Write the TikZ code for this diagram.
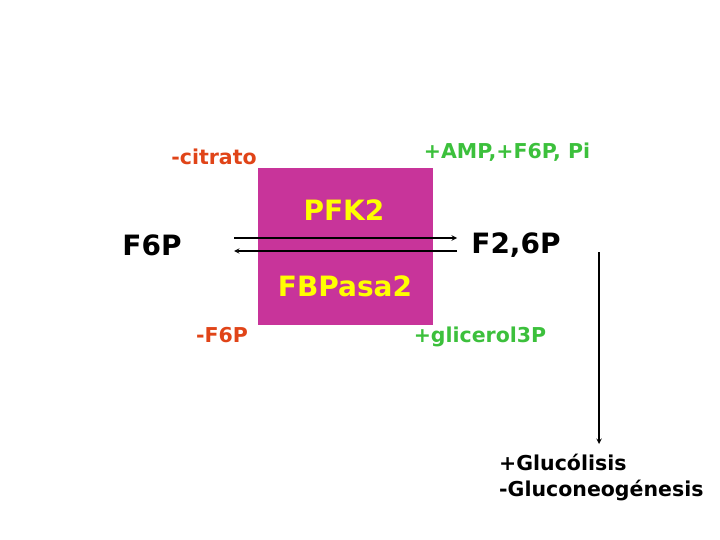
\documentclass[tikz,border=0pt]{standalone}
\usepackage{fontspec}
\setmainfont{DejaVu Sans}
\definecolor{redo}{HTML}{E04418}
\definecolor{grn}{HTML}{3CC03C}
\definecolor{mag}{HTML}{C8349A}
\definecolor{yel}{HTML}{FFFF00}
\begin{document}
\begin{tikzpicture}[x=1pt,y=-1pt,
  lab/.style={font=\bfseries\fontsize{20.5}{26}\selectfont,inner sep=0pt},
  big/.style={font=\bfseries\fontsize{28}{32}\selectfont,inner sep=0pt},
  arr/.style={-stealth,line width=1.4pt}]
\useasboundingbox (0,0) rectangle (720,540);
\node[fill=mag,minimum width=175pt,minimum height=157pt,inner sep=0pt] (box) at (345.5,246.5) {};
\node[big,text=yel] (pfk) at (344,210) {PFK2};
\node[big,text=yel] (fbp) at (345,286) {FBPasa2};
\node[big] (f6p) at (152,245) {F6P};
\node[big] (f26p) at (516,245) {F2,6P};
\node[lab,text=redo] (cit) at (214,157) {-citrato};
\node[lab,text=grn] (amp) at (507,152) {+AMP,+F6P, Pi};
\node[lab,text=redo] (mf6p) at (222,335) {-F6P};
\node[lab,text=grn] (gli) at (480,337) {+glicerol3P};
\node[lab,align=left,anchor=north west] (glu) at (499,454) {+Glucólisis\\-Gluconeogénesis};
\coordinate (a1) at (234,238); \coordinate (a2) at (457,238);
\coordinate (b1) at (457,251); \coordinate (b2) at (234,251);
\draw[arr] (a1) -- (a2);
\draw[arr] (b1) -- (b2);
\coordinate (v1) at (599,252); \coordinate (v2) at (599,444);
\draw[arr] (v1) -- (v2);
\end{tikzpicture}
\end{document}
